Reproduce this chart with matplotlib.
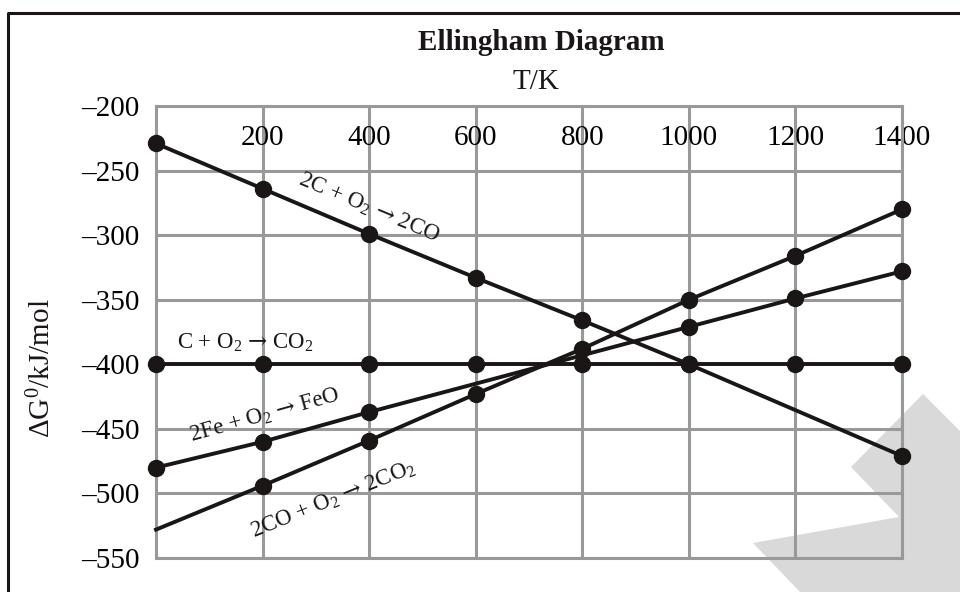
import matplotlib
matplotlib.use("Agg")
import matplotlib.pyplot as plt
from matplotlib.patches import Polygon
from matplotlib.lines import Line2D

# =====================================================
# DATA
# =====================================================

T_TICKS = [0, 200, 400, 600, 800, 1000, 1200, 1400]
T_LABELS = ["200", "400", "600", "800", "1000", "1200", "1400"]
G_TICKS = [-200, -250, -300, -350, -400, -450, -500, -550]

# 2C + O2 -> 2CO
co_T = [0, 200, 400, 600, 800, 1000, 1400]
co_G = [-229, -264, -299, -333, -366, -400, -471]

# C + O2 -> CO2
co2_T = [0, 200, 400, 600, 800, 1000, 1200, 1400]
co2_G = [-400, -400, -400, -400, -400, -400, -400, -400]

# 2Fe + O2 -> FeO
feo_T = [0, 200, 400, 1000, 1200, 1400]
feo_G = [-480, -460, -437, -371, -349, -328]

# 2CO + O2 -> 2CO2 (line starts at T=0 without a marker)
cotwo_T = [0, 200, 400, 600, 800, 1000, 1200, 1400]
cotwo_G = [-528, -494, -459, -423, -388, -350, -316, -280]

# =====================================================
# STYLE
# =====================================================

plt.rcParams["font.family"] = ["Liberation Serif", "DejaVu Serif"]
plt.rcParams["mathtext.fontset"] = "custom"
plt.rcParams["mathtext.rm"] = "Liberation Serif"
plt.rcParams["mathtext.it"] = "Liberation Serif:italic"
plt.rcParams["mathtext.sf"] = "DejaVu Serif"   # used for the wide arrow

INK = "#1a1616"
GRID = "#999999"
ARROW = r"$\mathsf{→}$"

fig = plt.figure(figsize=(9.6, 5.92), dpi=100)
ax = fig.add_axes([0.1625, 0.0574, 0.7771, 0.7635])
ax.set_facecolor("none")

# grey watermark shape behind the plot
shape = [(923, 394), (960, 431), (960, 592), (800, 592),
         (753, 543), (899, 517), (851, 467)]
fig.patches.append(Polygon([(x / 960, 1 - y / 592) for x, y in shape],
                           closed=True, transform=fig.transFigure,
                           facecolor="#d9d9d9", edgecolor="none", zorder=-1))

# outer frame (left and top edges)
fig.add_artist(Line2D([0.0085, 0.0085, 1.0], [0.0, 0.978, 0.978],
                      transform=fig.transFigure, color=INK, lw=2.2))

# =====================================================
# AXES
# =====================================================

ax.set_xlim(0, 1400)
ax.set_ylim(-550, -200)
ax.set_xticks(T_TICKS)
ax.set_yticks(G_TICKS)
ax.set_xticklabels([])
ax.set_yticklabels([str(v).replace("-", "\u2013") for v in G_TICKS],
                   fontsize=21)
ax.tick_params(length=0, pad=12)
ax.grid(True, color=GRID, lw=2.2, zorder=1)
for s in ax.spines.values():
    s.set_color(GRID)
    s.set_linewidth(2.2)

for t, lab in zip(T_TICKS[1:], T_LABELS):
    ax.text(t, -225, lab, ha="center", va="center", fontsize=21, zorder=2)

# =====================================================
# LINES
# =====================================================

kw = dict(color=INK, lw=2.8, zorder=4, clip_on=False)
mk = dict(color=INK, marker="o", ms=11.5, ls="none", zorder=5, clip_on=False)

ax.plot(co_T, co_G, **kw)
ax.plot(co_T, co_G, **mk)
ax.plot(co2_T, co2_G, **kw)
ax.plot(co2_T, co2_G, **mk)
ax.plot(feo_T, feo_G, **kw)
ax.plot(feo_T, feo_G, **mk)
ax.plot(cotwo_T, cotwo_G, **kw)
ax.plot(cotwo_T[1:], cotwo_G[1:], **mk)

# reaction labels
ax.text(400, -279, "2C + O$_2$ " + ARROW + " 2CO", fontsize=16.5,
        rotation=-22.7, ha="center", va="center", color=INK)
ax.text(167, -383, "C + O$_2$ " + ARROW + " CO$_2$", fontsize=16.5,
        ha="center", va="center", color=INK)
ax.text(203, -440, "2Fe + O$_2$ " + ARROW + " FeO", fontsize=16.5,
        rotation=15.5, ha="center", va="center", color=INK)
ax.text(332, -505, "2CO + O$_2$ " + ARROW + " 2CO$_2$", fontsize=16.5,
        rotation=22, ha="center", va="center", color=INK)

# =====================================================
# TITLES
# =====================================================

fig.text(541 / 960, 1 - 43 / 592, "Ellingham Diagram", fontsize=21,
         fontweight="bold", ha="center", va="center", color=INK)
fig.text(536 / 960, 1 - 82 / 592, "T/K", fontsize=21,
         ha="center", va="center", color=INK)
fig.text(42 / 960, 1 - 368 / 592, r"$\Delta$G$^0$/kJ/mol", fontsize=21,
         rotation=90, ha="center", va="center", color=INK)

fig.savefig("out.png", dpi=100)
plt.close(fig)
